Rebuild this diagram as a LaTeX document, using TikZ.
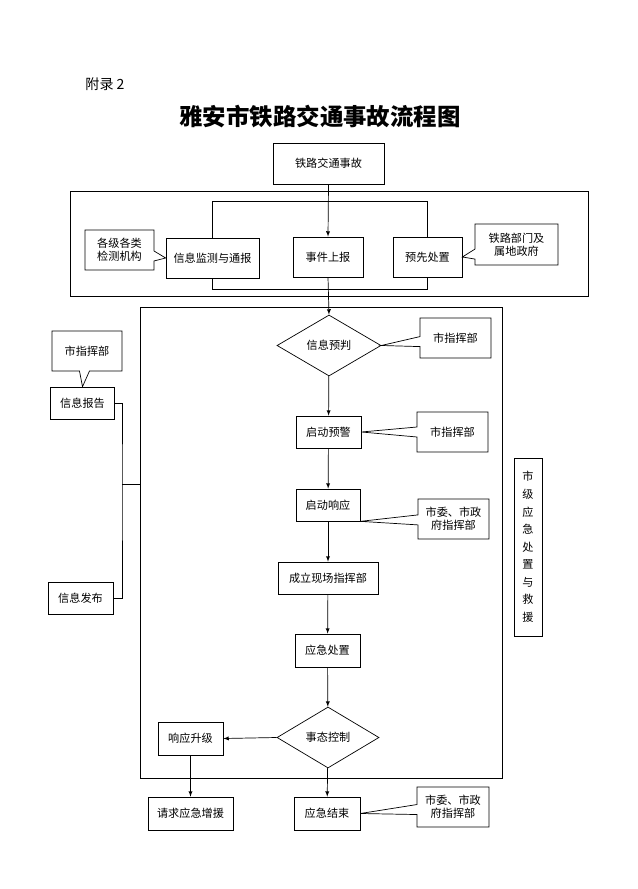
\documentclass[tikz,border=0pt]{standalone}
\usepackage{fontspec}
\usetikzlibrary{shapes.geometric,shapes.callouts}
\newfontfamily\cjk{Noto Sans CJK SC}

\begin{document}
\begin{tikzpicture}[
		x=0.3mm, y=-0.3mm,
		font=\fontsize{9.5}{11}\cjk,
		>=latex,
		semithick,
		box/.style={draw,rectangle,inner sep=1pt},
		boxsize/.style 2 args={minimum width=#1*0.3mm,minimum height=#2*0.3mm},
		decide/.style={draw,diamond,inner sep=0pt},
		frame/.style={draw,rectangle,inner sep=0pt},
		note/.style={draw,rectangle callout,callout pointer width=3mm,align=center,inner sep=1pt}]
		
		\useasboundingbox (0,0) rectangle (637,889);
		
		%titel
		\node[font=\fontsize{12}{14}\cjk] (appx) at (105,84) {附录 2};
		\node[font=\fontsize{20}{24}\cjk\bfseries] (title) at (320,117) {雅安市铁路交通事故流程图};
		
		%oben
		\node[box,boxsize={111}{41}] (accident) at (328.5,163.5) {铁路交通事故};
		\node[frame,boxsize={518}{105}] (zone1) at (329,243.5) {};
		\node[box,boxsize={93}{40}] (monitor) at (212.5,258) {信息监测与通报};
		\node[box,boxsize={70}{40}] (report) at (328,257) {事件上报};
		\node[box,boxsize={69}{40}] (prehandle) at (427.5,257) {预先处置};
		\node[note,boxsize={69}{40},callout absolute pointer={(monitor.west)}] (c1) at (119.5,250) {各级各类\\检测机构};
		\node[note,boxsize={83}{41},callout absolute pointer={(prehandle.east)}] (c2) at (516.5,244.5) {铁路部门及\\属地政府};
		
		\coordinate (bracketTop) at (0,201);
		\coordinate (bracketBot) at (0,289);
		\draw (monitor.north) -- (monitor.north |- bracketTop) -| (prehandle.north);
		\draw (monitor.south) -- (monitor.south |- bracketBot) -| (prehandle.south);
		
		%ablauf
		\node[frame,boxsize={362}{471}] (zone2) at (321,542.5) {};
		\node[decide,boxsize={104}{61}] (judge) at (329,345.5) {信息预判};
		\node[box,boxsize={65}{32}] (warn) at (328.5,432) {启动预警};
		\node[box,boxsize={64}{32}] (respond) at (328,505) {启动响应};
		\node[box,boxsize={100}{32}] (site) at (328,578) {成立现场指挥部};
		\node[box,boxsize={65}{33}] (handle) at (327.5,650.5) {应急处置};
		\node[decide,boxsize={102}{61}] (control) at (328,737.5) {事态控制};
		\node[box,boxsize={65}{33}] (upgrade) at (190.5,738.5) {响应升级};
		\node[box,boxsize={85}{33}] (reinforce) at (190.5,813.5) {请求应急增援};
		\node[box,boxsize={66}{33}] (finish) at (327,813.5) {应急结束};
		
		%zuständig
		\node[note,boxsize={71}{40},callout absolute pointer={(judge.east)}] (c3) at (455.5,338) {市指挥部};
		\node[note,boxsize={71}{40},callout absolute pointer={(warn.east)}] (c4) at (452.5,432) {市指挥部};
		\node[note,boxsize={71}{40},callout absolute pointer={(respond.south east)}] (c5) at (453.5,519) {市委、市政\\府指挥部};
		\node[note,boxsize={72}{40},callout absolute pointer={(finish.east)}] (c6) at (453,807) {市委、市政\\府指挥部};
		\node[box,boxsize={28}{178},align=center,font=\fontsize{9.5}{15}\cjk] (level) at (528,547) {市\\级\\应\\急\\处\\置\\与\\救\\援};
		
		%information
		\node[box,boxsize={64}{32}] (infoRep) at (82.5,403) {信息报告};
		\node[note,boxsize={70}{40},callout absolute pointer={(infoRep.north)}] (c7) at (87,351) {市指挥部};
		\node[box,boxsize={65}{32}] (infoPub) at (80.5,598) {信息发布};
		
		\coordinate (joint) at (122,484);
		\draw (infoRep.east) -| (joint) |- (infoPub.east);
		\draw (joint) -- (joint -| zone2.west);
		
		%pfeile
		\draw[->] (accident.south) -- (report.north);
		\draw[->] (report.south) -- (judge.north);
		\foreach \von/\nach in {judge/warn, warn/respond, respond/site, site/handle, handle/control, control/finish, upgrade/reinforce}
		\draw[->] (\von) -- (\nach);
		\draw[->] (control.west) -- (upgrade.east);
		
	\end{tikzpicture}
\end{document}
